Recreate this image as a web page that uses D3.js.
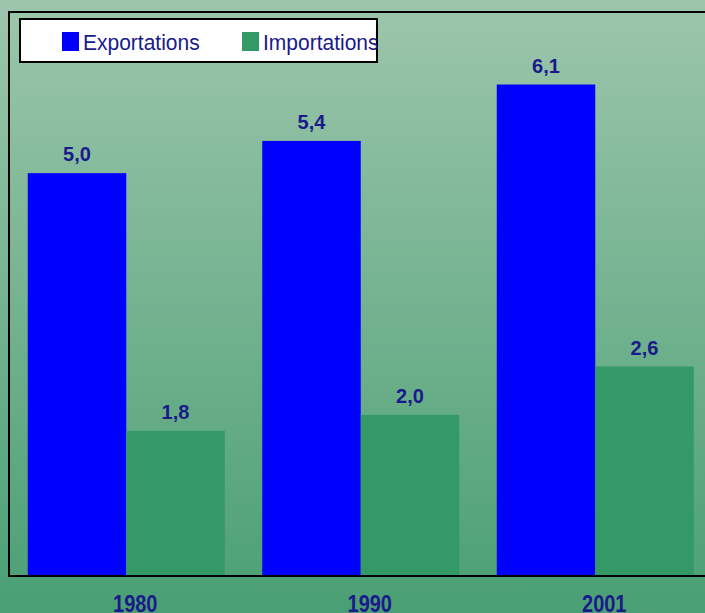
<!DOCTYPE html>
<html><head><meta charset="utf-8">
<script src="https://cdn.jsdelivr.net/npm/d3@7"></script>
<style>html,body{margin:0;padding:0;overflow:hidden;background:#fff}</style>
</head><body>
<script>
const years = ["1980", "1990", "2001"];
const seriesNames = ["Exportations", "Importations"];
const exportations = [5.0, 5.4, 6.1];
const importations = [1.8, 2.0, 2.6];
const colors = ["#0000FF", "#339966"];

const W = 705, H = 613;
const txt = "#1a1a8a";
const font = "Arial, 'Liberation Sans', sans-serif";
const svg = d3.select("body").append("svg").attr("width", W).attr("height", H);

const defs = svg.append("defs");
const g = defs.append("linearGradient").attr("id", "bg").attr("x1", 0).attr("y1", 0).attr("x2", 0).attr("y2", 1);
g.append("stop").attr("offset", "0%").attr("stop-color", "#9dc6ac");
g.append("stop").attr("offset", "100%").attr("stop-color", "#4a9f74");
svg.append("rect").attr("width", W).attr("height", H).attr("fill", "url(#bg)");

const x0 = d3.scaleBand().domain(years).range([9, 712.5]).paddingInner(0.16).paddingOuter(0.08);
const x1 = d3.scaleBand().domain(seriesNames).range([0, x0.bandwidth()]);
const y = d3.scaleLinear().domain([0, 7]).range([576, 12]);

const data = years.map((yr, i) => ({year: yr, vals: [exportations[i], importations[i]]}));

const groups = svg.append("g").selectAll("g").data(data).join("g")
  .attr("transform", d => `translate(${x0(d.year)},0)`);

groups.selectAll("rect").data(d => d.vals.map((v, j) => ({v, s: seriesNames[j], j})))
  .join("rect")
  .attr("x", d => x1(d.s)).attr("width", x1.bandwidth())
  .attr("y", d => y(d.v)).attr("height", d => y(0) - y(d.v))
  .attr("fill", d => colors[d.j]);

const fmt = v => v.toFixed(1).replace(".", ",");
groups.selectAll("text.val").data(d => d.vals.map((v, j) => ({v, s: seriesNames[j], j})))
  .join("text").attr("class", "val")
  .attr("x", d => x1(d.s) + x1.bandwidth() / 2)
  .attr("y", d => y(d.v) - 12)
  .attr("text-anchor", "middle")
  .attr("font-family", font)
  .attr("font-weight", "bold").attr("font-size", 20).attr("fill", txt)
  .text(d => fmt(d.v));

// frame
svg.append("rect").attr("x", 9).attr("y", 12).attr("width", 720).attr("height", 564)
  .attr("fill", "none").attr("stroke", "#000").attr("stroke-width", 2);

// x axis labels
const xAxis = d3.axisBottom(x0).tickSize(0).tickPadding(0);
const ax = svg.append("g").attr("transform", "translate(0,576)").call(xAxis);
ax.select(".domain").remove();
ax.selectAll(".tick text")
  .attr("y", 0).attr("dy", 0)
  .attr("transform", "translate(9,35.5) scale(1,1.15)")
  .attr("font-family", font)
  .attr("font-weight", "bold").attr("font-size", 20).attr("fill", txt);

// legend
const lg = svg.append("g");
lg.append("rect").attr("x", 20).attr("y", 19).attr("width", 357).attr("height", 43)
  .attr("fill", "#fff").attr("stroke", "#000").attr("stroke-width", 2);
const legX = [62, 242];
seriesNames.forEach((s, i) => {
  lg.append("rect").attr("x", legX[i]).attr("y", 32).attr("width", 17).attr("height", 19).attr("fill", colors[i]);
  lg.append("text").attr("transform", `translate(${legX[i] + 21},49.5) scale(1,1.05)`)
    .attr("font-family", font)
    .attr("font-size", 21).attr("fill", txt).text(s);
});
</script>
</body></html>
